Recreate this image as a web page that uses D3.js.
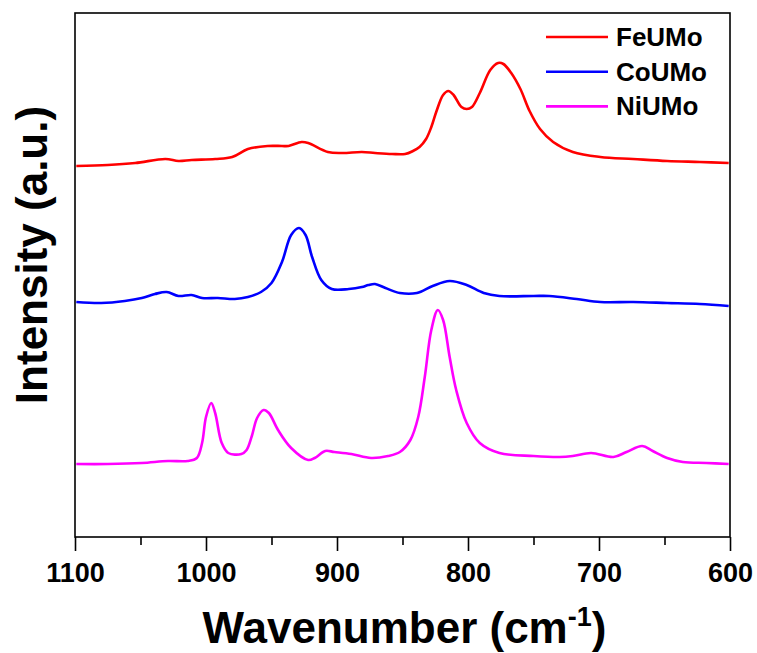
<!DOCTYPE html>
<html>
<head>
<meta charset="utf-8">
<script src="https://cdn.jsdelivr.net/npm/d3@7"></script>
<style>
  html, body { margin: 0; padding: 0; background: #fff; }
  svg { display: block; font-family: "Liberation Sans", Arial, sans-serif; font-weight: bold; }
</style>
</head>
<body>
<svg id="chart" width="757" height="653"></svg>
<script>
// Raman spectra, wavenumber (cm-1) and stacked intensity (a.u.)
const feWavenumber = [1099, 1075, 1054, 1031, 1021, 1011, 993, 980, 968, 953, 942, 937, 927, 922, 907, 896, 881, 871, 858, 848, 842, 837, 832, 828, 824, 819, 815, 811, 805, 801, 797, 791, 783, 777, 773, 767, 760, 753, 745, 735, 720, 699, 674, 648, 623, 601];
const feIntensity  = [371, 372, 374, 378, 376, 377, 378, 380, 388, 391, 391, 391, 395, 394, 385, 384, 385, 384, 383, 383, 386, 390, 398, 410, 426, 442, 446, 442, 430, 428, 430, 444, 467, 474, 473, 464, 448, 426, 408, 395, 385, 380, 378, 376, 375, 374];

const coWavenumber = [1099, 1080, 1062, 1049, 1039, 1030, 1021, 1011, 1003, 991, 978, 968, 958, 950, 942, 935, 929, 924, 919, 912, 904, 891, 881, 876, 871, 863, 852, 839, 827, 814, 801, 788, 776, 750, 738, 717, 699, 674, 648, 623, 601];
const coIntensity  = [235, 234, 236, 239, 243, 245, 241, 242, 239, 239, 238, 240, 245, 254, 275, 302, 309, 302, 280, 257, 248, 248, 250, 252, 253, 249, 244, 244, 251, 256, 252, 244, 241, 241, 241, 238, 235, 235, 234, 233, 231];

const niWavenumber = [1099, 1075, 1049, 1029, 1014, 1007, 1003, 1000, 996, 993, 988, 983, 973, 969, 965, 961, 956, 952, 945, 935, 922, 917, 909, 902, 889, 874, 861, 852, 844, 838, 833, 828, 823, 819, 814, 809, 801, 791, 776, 750, 730, 720, 706, 689, 679, 667, 659, 648, 636, 618, 601];
const niIntensity  = [73, 73, 74, 76, 76, 79, 94, 120, 134, 124, 94, 84, 83, 87, 101, 119, 127, 124, 107, 89, 77, 79, 86, 85, 83, 79, 81, 85, 97, 120, 160, 207, 227, 217, 180, 147, 114, 94, 84, 81, 80, 81, 84, 80, 85, 91, 86, 79, 75, 74, 73];

const seriesNames  = ["FeUMo", "CoUMo", "NiUMo"];
const seriesColors = ["#ff0000", "#0000ff", "#ff00ff"];
const majorTicks   = [1100, 1000, 900, 800, 700, 600];
const minorTicks   = [1050, 950, 850, 750, 650];

const series = [
  { name: seriesNames[0], color: seriesColors[0], x: feWavenumber, y: feIntensity },
  { name: seriesNames[1], color: seriesColors[1], x: coWavenumber, y: coIntensity },
  { name: seriesNames[2], color: seriesColors[2], x: niWavenumber, y: niIntensity }
];

const svg = d3.select("#chart");
const plot = { left: 75, right: 730, top: 13, bottom: 537 };

const x = d3.scaleLinear().domain([1100, 600]).range([plot.left, plot.right]);
const y = d3.scaleLinear().domain([0, 524]).range([plot.bottom, plot.top]);

// spectra
const line = d3.line()
  .x(d => x(d[0]))
  .y(d => y(d[1]))
  .curve(d3.curveCatmullRom.alpha(0.5));

series.forEach(s => {
  const pts = s.x.map((w, i) => [w, s.y[i]]);
  svg.append("path")
    .datum(pts)
    .attr("d", line)
    .attr("fill", "none")
    .attr("stroke", s.color)
    .attr("stroke-width", 2.6)
    .attr("stroke-linejoin", "round");
});

// frame
svg.append("rect")
  .attr("x", plot.left).attr("y", plot.top)
  .attr("width", plot.right - plot.left)
  .attr("height", plot.bottom - plot.top)
  .attr("fill", "none").attr("stroke", "#000").attr("stroke-width", 1.6);

// bottom axis: major ticks with labels, minor ticks between
const axisMajor = d3.axisBottom(x).tickValues(majorTicks).tickSize(14).tickPadding(12).tickFormat(d3.format("d"));
const gMajor = svg.append("g").attr("transform", `translate(0,${plot.bottom})`).call(axisMajor);
gMajor.select(".domain").remove();
gMajor.selectAll("line").attr("stroke", "#000").attr("stroke-width", 1.6);
gMajor.selectAll("text")
  .attr("font-size", 27).attr("font-weight", "bold")
  .attr("font-family", "Liberation Sans, Arial, sans-serif")
  .attr("fill", "#000");

const axisMinor = d3.axisBottom(x).tickValues(minorTicks).tickSize(8).tickFormat("");
const gMinor = svg.append("g").attr("transform", `translate(0,${plot.bottom})`).call(axisMinor);
gMinor.select(".domain").remove();
gMinor.selectAll("line").attr("stroke", "#000").attr("stroke-width", 1.6);

// axis titles
const xTitle = svg.append("text")
  .attr("x", (plot.left + plot.right) / 2 + 2).attr("y", 643)
  .attr("text-anchor", "middle").attr("font-size", 44).attr("fill", "#000");
xTitle.append("tspan").text("Wavenumber (cm");
xTitle.append("tspan").attr("font-size", 27).attr("dy", -17).text("-1");
xTitle.append("tspan").attr("dy", 17).text(")");

svg.append("text")
  .attr("transform", `translate(47,255) rotate(-90)`)
  .attr("text-anchor", "middle").attr("font-size", 44).attr("fill", "#000")
  .text("Intensity (a.u.)");

// legend
const legend = svg.append("g");
series.forEach((s, i) => {
  const ly = 37 + i * 34.7;
  legend.append("line")
    .attr("x1", 546).attr("x2", 608).attr("y1", ly).attr("y2", ly)
    .attr("stroke", s.color).attr("stroke-width", 2.6);
  legend.append("text")
    .attr("x", 616).attr("y", ly + 9)
    .attr("font-size", 26).attr("fill", "#000")
    .text(s.name);
});
</script>
</body>
</html>
